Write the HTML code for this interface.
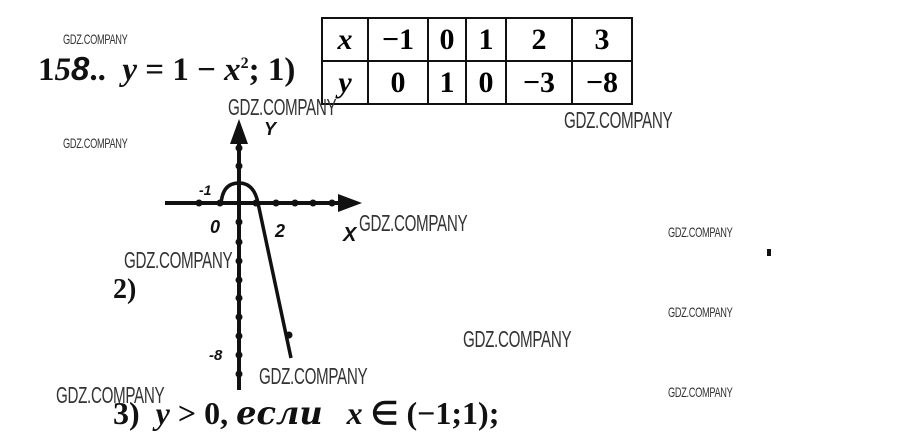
<!DOCTYPE html>
<html><head><meta charset="utf-8"><style>
html,body{margin:0;padding:0;background:#fff;width:900px;height:443px;overflow:hidden;position:relative}
.wm{position:absolute;font-family:"Liberation Sans",sans-serif;color:#333;transform-origin:0 0;transform:scaleX(0.66);white-space:nowrap;letter-spacing:-0.5px}
.big{font-size:23px}
.sm{font-size:14px}
.t{position:absolute;font-family:"Liberation Serif",serif;color:#111;white-space:nowrap}
table{position:absolute;left:321px;top:17px;border-collapse:collapse;font-family:"Liberation Serif",serif;font-weight:bold;font-size:30px}
td{border:2.5px solid #111;text-align:center;padding:0;height:41px}
</style></head><body>
<div class="wm sm" style="left:63px;top:31px">GDZ.COMPANY</div>
<div class="t" style="left:38px;top:50px;font-size:33px;font-weight:bold"><b>1</b><i>5</i><i style="font-family:'Liberation Sans'">8</i>.. &nbsp;<i>y</i> = 1 − <i>x</i><sup style="font-size:16px">2</sup>; 1)</div>
<table>
<tr><td style="width:44px"><i>x</i></td><td style="width:58px">−1</td><td style="width:36px">0</td><td style="width:38px">1</td><td style="width:64px">2</td><td style="width:58px">3</td></tr>
<tr><td><i>y</i></td><td>0</td><td>1</td><td>0</td><td>−3</td><td>−8</td></tr>
</table>
<div class="wm big" style="left:228px;top:94px">GDZ.COMPANY</div>
<div class="wm big" style="left:564px;top:107px">GDZ.COMPANY</div>
<div class="wm sm" style="left:63px;top:135px">GDZ.COMPANY</div>
<div class="wm big" style="left:359px;top:210px">GDZ.COMPANY</div>
<div class="wm big" style="left:124px;top:247px">GDZ.COMPANY</div>
<div class="wm sm" style="left:668px;top:224px">GDZ.COMPANY</div>
<div class="wm sm" style="left:668px;top:304px">GDZ.COMPANY</div>
<div class="wm sm" style="left:668px;top:384px">GDZ.COMPANY</div>
<div class="wm big" style="left:463px;top:326px">GDZ.COMPANY</div>
<div class="wm big" style="left:259px;top:363px">GDZ.COMPANY</div>
<div class="wm big" style="left:56px;top:382px">GDZ.COMPANY</div>
<div style="position:absolute;left:767px;top:249px;width:4px;height:7px;background:#111"></div>
<svg width="900" height="443" style="position:absolute;left:0;top:0" xmlns="http://www.w3.org/2000/svg">
<g stroke="#111" stroke-width="4" fill="none">
<line x1="239" y1="135" x2="239" y2="390"/>
<line x1="165" y1="203" x2="345" y2="203"/>
<path d="M221,205 Q222,183 239,183 Q254,183 258,203 L291,358" stroke-width="3.5"/>
</g>
<polygon points="239,119 230,144 248,144" fill="#111"/>
<polygon points="362,203 338,194 338,212" fill="#111"/>
<g fill="#111">
<circle cx="199" cy="203" r="3.5"/><circle cx="220" cy="203" r="3.5"/><circle cx="256" cy="203" r="3.5"/><circle cx="276" cy="203" r="3.5"/><circle cx="295" cy="203" r="3.5"/><circle cx="313" cy="203" r="3.5"/><circle cx="332" cy="203" r="3.5"/>
<circle cx="239" cy="166" r="3.5"/><circle cx="239" cy="148" r="3.5"/><circle cx="239" cy="222" r="3.5"/><circle cx="239" cy="242" r="3.5"/><circle cx="239" cy="261" r="3.5"/><circle cx="239" cy="280" r="3.5"/><circle cx="239" cy="298" r="3.5"/><circle cx="239" cy="317" r="3.5"/><circle cx="239" cy="336" r="3.5"/><circle cx="239" cy="355" r="3.5"/><circle cx="239" cy="374" r="3.5"/>
<circle cx="289" cy="335" r="3.5"/>
</g>
<g font-family="Liberation Sans,sans-serif" font-style="italic" font-weight="bold" fill="#111">
<text x="264" y="135" font-size="18">Y</text>
<text x="199" y="195" font-size="14">-1</text>
<text x="210" y="233" font-size="18">0</text>
<text x="275" y="237" font-size="18">2</text>
<text x="343" y="241" font-size="20">X</text>
<text x="209" y="360" font-size="15">-8</text>
</g>
</svg>
<div class="t" style="left:113px;top:274px;font-size:28px;font-weight:bold">2)</div>
<div class="t" style="left:113px;top:394px;font-size:32px;font-weight:bold">3) &nbsp;<i>y</i> &gt; 0, <i style="font-family:'DejaVu Serif',serif;font-size:32px">ecлu</i> &nbsp; <i>x</i> ∈ (−1;1);</div>
</body></html>
